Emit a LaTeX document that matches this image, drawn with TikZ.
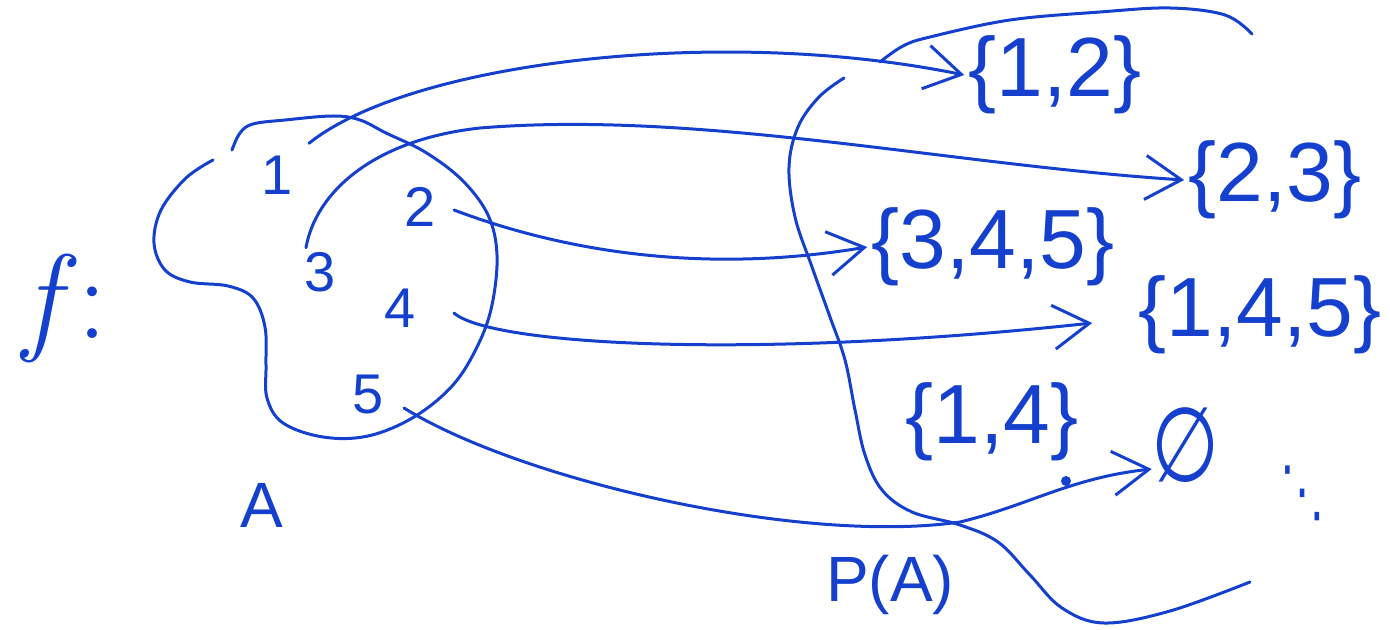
\documentclass[tikz,border=0pt]{standalone}
\usepackage{fontspec}
\newfontfamily\hand{Liberation Sans}
\newfontfamily\symf{DejaVu Sans}
\usetikzlibrary{arrows.meta}
\definecolor{pen}{RGB}{20,64,205}
\tikzset{
  ink/.style={draw=pen, line width=1.5pt, line cap=round, line join=round},
  arr/.style={ink, -{Straight Barb[length=18pt,width=22pt]}},
  num/.style={text=pen, inner sep=2pt, font=\hand\fontsize{28}{30}\selectfont},
  setn/.style={text=pen, inner sep=2pt, font=\hand\fontsize{42}{46}\selectfont},
  lbl/.style={text=pen, inner sep=2pt, font=\hand\fontsize{32}{34}\selectfont},
}
\begin{document}
\begin{tikzpicture}[x=0.5pt,y=-0.5pt]
\useasboundingbox (0,0) rectangle (1390,630);
% f :
\node[text=pen, anchor=base, inner sep=0pt, font=\fontsize{60}{60}\selectfont] (f) at (65,338) {\itshape f\upshape\hspace{0.15em}:};
% set A blob
\draw[ink] plot[smooth, tension=0.6] coordinates {
 (232,150) (240,133) (253,124) (285,120) (333,116) (360,120) (386,133)
 (425,152) (462,180) (488,215) (497,255) (492,305) (478,345) (453,385)
 (414,417) (368,436) (323,437) (283,423) (267,398) (266,365) (265,327)
 (253,298) (228,286) (190,282) (165,270) (154,243) (161,210) (186,178) (213,160)};
% P(A) blob
\draw[ink] plot[smooth, tension=0.6] coordinates {
 (844,78) (819,97) (798,127) (789,167) (795,217) (812,267) (830,317)
 (845,360) (855,410) (865,455) (882,490) (912,512) (960,525) (998,542)
 (1030,575) (1062,608) (1104,623) (1170,611) (1250,582)};
\draw[ink] plot[smooth, tension=0.6] coordinates {
 (880,62) (903,46) (930,37) (1010,20) (1100,12) (1170,8) (1225,15) (1252,34)};
% elements of A
\node[num] (n1) at (277,175) {1};
\node[num] (n2) at (420,207) {2};
\node[num] (n3) at (320,272) {3};
\node[num] (n4) at (400,308) {4};
\node[num] (n5) at (368,395) {5};
\node[lbl] (lA) at (262,505) {A};
% elements of P(A)
\node[setn] (s12) at (1055,75) {\{1,2\}};
\node[setn] (s23) at (1275,180) {\{2,3\}};
\node[setn] (s345) at (993,247) {\{3,4,5\}};
\node[setn] (s145) at (1260,315) {\{1,4,5\}};
\node[setn] (s14) at (992,422) {\{1,4\}};
\node[text=pen, inner sep=2pt, xscale=0.75, font=\symf\fontsize{52}{56}\selectfont] (sE) at (1185,445) {∅};
\node[text=pen, inner sep=0pt, xscale=0.65, font=\symf\fontsize{34}{34}\selectfont] (dots) at (1303,493) {⋱};
\node[lbl] (lP) at (890,585) {P(A)};
% arrows
\draw[arr] ([xshift=6pt,yshift=4pt]n1.north east) .. controls (410,62) and (720,25) .. (s12.west);
\draw[arr] ([xshift=-7pt]n3.north) .. controls (315,195) and (370,140) .. (480,128)
  .. controls (700,110) and (950,165) .. (s23.west);
\draw[arr] ([xshift=7pt,yshift=-1.5pt]n2.east) .. controls (560,250) and (700,275) .. (s345.west);
\draw[arr] ([xshift=17pt,yshift=-2.5pt]n4.east) .. controls (490,345) and (750,360) .. ([xshift=-21pt,yshift=-4pt]s145.west);
\draw[arr] ([xshift=8pt,yshift=-6.5pt]n5.east) .. controls (520,480) and (800,545) .. (960,522)
  .. controls (1030,505) and (1070,478) .. ([xshift=2pt,yshift=-12pt]sE.west);
\fill[pen] (1066,481) circle[radius=2.5pt];
\end{tikzpicture}
\end{document}
